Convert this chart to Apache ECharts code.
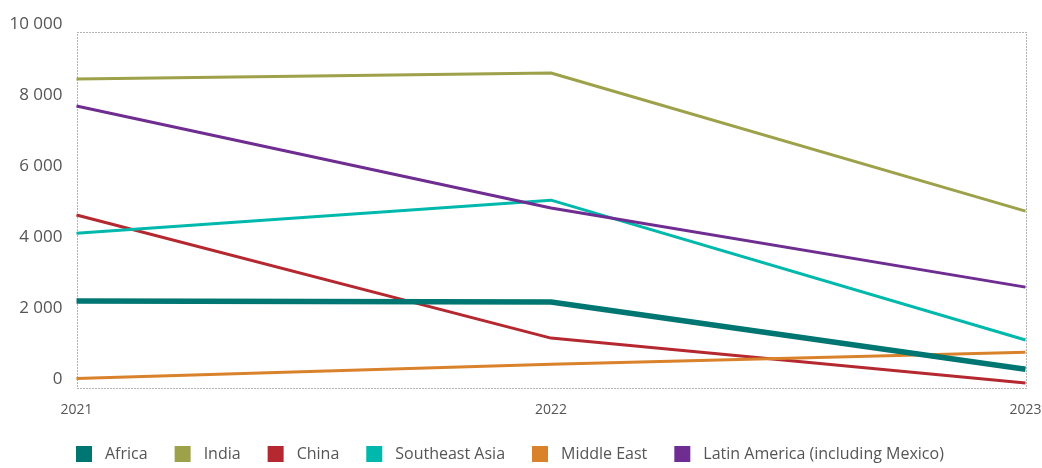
<!DOCTYPE html>
<html><head><meta charset="utf-8">
<script src="https://cdn.jsdelivr.net/npm/echarts@6/dist/echarts.min.js"></script>
<style>html,body{margin:0;padding:0;background:#fff}#c{width:1042px;height:468px}</style>
</head><body><div id="c"></div>
<script>
const years = ['2021', '2022', '2023'];
const africa = [2200, 2170, 280];
const india = [8450, 8620, 4730];
const china = [4620, 1155, -110];
const seAsia = [4110, 5040, 1100];
const middleEast = [20, 420, 760];
const latinAmerica = [7690, 4820, 2590];
const yTicks = [0, 2000, 4000, 6000, 8000, 10000];

const FONT = '"Liberation Sans Narrow", "Open Sans", sans-serif';
const chart = echarts.init(document.getElementById('c'));
function mk(name, data, color, width, z) {
  return { name, type: 'line', data, symbol: 'none', z: z,
    lineStyle: { color, width }, itemStyle: { color } };
}
chart.setOption({
  animation: false,
  grid: { left: 76.5, right: 16.5, top: 24, bottom: 80, outerBoundsMode: 'none', containLabel: false },
  xAxis: {
    type: 'category', data: years, boundaryGap: false,
    axisLine: { show: false }, axisTick: { show: false },
    axisLabel: { color: '#555', fontFamily: FONT, fontSize: 14, margin: 15 }
  },
  yAxis: {
    type: 'value', min: -250, max: 10000, interval: 2000,
    splitLine: { show: false }, axisLine: { show: false }, axisTick: { show: false },
    axisLabel: { color: '#555', fontFamily: FONT, fontSize: 17, margin: 14,
      customValues: yTicks,
      formatter: v => v >= 1000 ? Math.floor(v/1000) + ' ' + String(v % 1000).padStart(3,'0') : String(v) }
  },
  legend: {
    left: 76, top: 446, padding: 0, itemWidth: 16, itemHeight: 16, itemGap: 27, icon: 'rect',
    textStyle: { color: '#555', fontFamily: FONT, fontSize: 16, padding: [0,0,0,8] }
  },
  series: [
    mk('Africa', africa, '#007672', 5.5, 10),
    mk('India', india, '#9DA14A', 3, 5),
    mk('China', china, '#B5282F', 3, 5),
    mk('Southeast Asia', seAsia, '#00B9AC', 3, 5),
    mk('Middle East', middleEast, '#D9822B', 3, 5),
    mk('Latin America (including Mexico)', latinAmerica, '#6F2C91', 3, 5)
  ]
});
const p0 = chart.convertToPixel({ gridIndex: 0 }, [0, 9775]);
const p1 = chart.convertToPixel({ gridIndex: 0 }, [2, -250]);
chart.setOption({ graphic: [{ type: 'rect', z: 0, silent: true,
  shape: { x: Math.round(p0[0]) + 0.5, y: Math.round(p0[1]) + 0.5, width: Math.round(p1[0] - p0[0]), height: Math.round(p1[1] - p0[1]) },
  style: { fill: 'none', stroke: '#666', lineWidth: 1, lineDash: [1, 2] } }] });
</script></body></html>
